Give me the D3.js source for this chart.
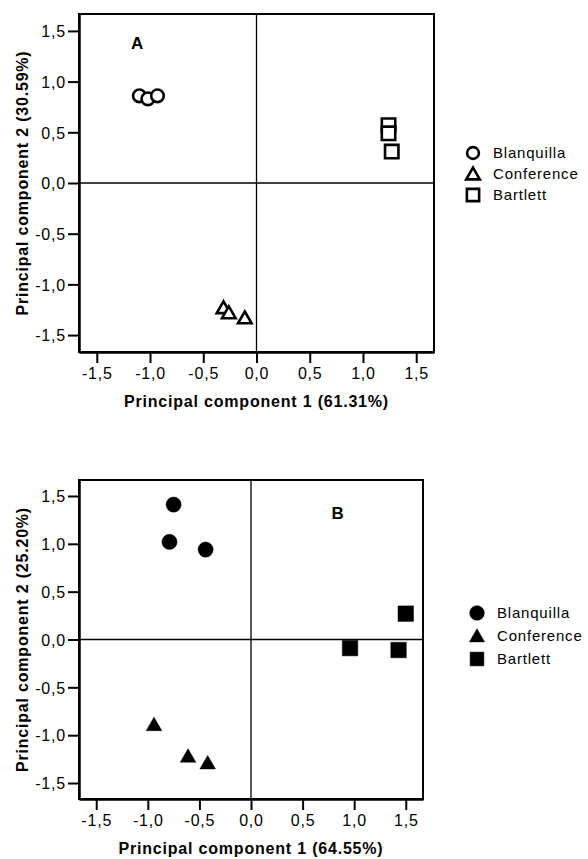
<!DOCTYPE html>
<html>
<head>
<meta charset="utf-8">
<script src="https://cdn.jsdelivr.net/npm/d3@7"></script>
<style>
  html, body { margin: 0; padding: 0; background: #fff; }
  svg { display: block; font-family: "Liberation Sans", Arial, sans-serif; }
</style>
</head>
<body>
<svg id="chart" width="588" height="859"></svg>
<script>
// ---- Data ----
const cultivars = ["Blanquilla", "Conference", "Bartlett"];
const tickValues = [-1.5, -1.0, -0.5, 0.0, 0.5, 1.0, 1.5];

// Panel A (open symbols)
const aBlanquillaX = [-1.10, -1.02, -0.93];
const aBlanquillaY = [0.86, 0.83, 0.86];
const aConferenceX = [-0.31, -0.26, -0.11];
const aConferenceY = [-1.23, -1.28, -1.33];
const aBartlettX = [1.24, 1.24, 1.27];
const aBartlettY = [0.57, 0.49, 0.31];

// Panel B (filled symbols)
const bBlanquillaX = [-0.75, -0.79, -0.44];
const bBlanquillaY = [1.41, 1.02, 0.94];
const bConferenceX = [-0.94, -0.61, -0.42];
const bConferenceY = [-0.89, -1.22, -1.29];
const bBartlettX = [1.50, 0.96, 1.43];
const bBartlettY = [0.27, -0.09, -0.11];

const panels = [
  {
    label: "A", filled: false,
    xTitle: "Principal component 1 (61.31%)",
    yTitle: "Principal component 2 (30.59%)",
    series: [
      {name: cultivars[0], xs: aBlanquillaX, ys: aBlanquillaY},
      {name: cultivars[1], xs: aConferenceX, ys: aConferenceY},
      {name: cultivars[2], xs: aBartlettX, ys: aBartlettY}
    ],
    box: {left: 79, right: 434, top: 14, bottom: 352},
    labelPos: [-1.12, 1.38],
    legend: {x: 473, y: 153, dy: 21}
  },
  {
    label: "B", filled: true,
    xTitle: "Principal component 1 (64.55%)",
    yTitle: "Principal component 2 (25.20%)",
    series: [
      {name: cultivars[0], xs: bBlanquillaX, ys: bBlanquillaY},
      {name: cultivars[1], xs: bConferenceX, ys: bConferenceY},
      {name: cultivars[2], xs: bBartlettX, ys: bBartlettY}
    ],
    box: {left: 79, right: 423, top: 480, bottom: 799},
    labelPos: [0.84, 1.32],
    legend: {x: 477, y: 613, dy: 23}
  }
];

const svg = d3.select("#chart");
const fmt = v => d3.format(".1f")(v).replace(".", ",").replace("−", "-");
const symTypes = [d3.symbolCircle, d3.symbolTriangle, d3.symbolSquare];

panels.forEach(p => {
  const b = p.box;
  const x = d3.scaleLinear().domain([-1.667, 1.667]).range([b.left, b.right]);
  const y = d3.scaleLinear().domain([-1.667, 1.667]).range([b.bottom, b.top]);
  const g = svg.append("g");

  // frame
  g.append("rect")
    .attr("x", b.left).attr("y", b.top)
    .attr("width", b.right - b.left).attr("height", b.bottom - b.top)
    .attr("fill", "none").attr("stroke", "#000").attr("stroke-width", 2);

  // zero reference lines
  g.append("line")
    .attr("x1", x(0)).attr("x2", x(0)).attr("y1", b.top).attr("y2", b.bottom)
    .attr("stroke", "#000").attr("stroke-width", 1.3);
  g.append("line")
    .attr("x1", b.left).attr("x2", b.right).attr("y1", y(0)).attr("y2", y(0))
    .attr("stroke", "#000").attr("stroke-width", 1.3);

  // axes
  const xAxis = d3.axisBottom(x).tickValues(tickValues).tickFormat(fmt).tickSize(11).tickSizeOuter(0).tickPadding(5);
  const yAxis = d3.axisLeft(y).tickValues(tickValues).tickFormat(fmt).tickSize(11).tickSizeOuter(0).tickPadding(2);

  const gx = g.append("g").attr("transform", `translate(0,${b.bottom})`).call(xAxis);
  const gy = g.append("g").attr("transform", `translate(${b.left},0)`).call(yAxis);
  [gx, gy].forEach(ax => {
    ax.select(".domain").attr("stroke", "#000").attr("stroke-width", 2.5);
    ax.selectAll(".tick line").attr("stroke", "#000").attr("stroke-width", 2);
    ax.selectAll(".tick text")
      .attr("fill", "#000")
      .style("font-family", '"Liberation Sans", Arial, sans-serif')
      .style("font-size", "16px")
      .style("letter-spacing", "0.8px");
  });
  gy.selectAll(".tick text").attr("dy", "0.36em");

  // axis titles
  g.append("text")
    .attr("x", (b.left + b.right) / 2)
    .attr("y", b.bottom + 55)
    .attr("text-anchor", "middle")
    .style("font-weight", "bold").style("font-size", "16px")
    .style("letter-spacing", "0.8px")
    .text(p.xTitle);
  g.append("text")
    .attr("transform", `translate(${28},${(b.top + b.bottom) / 2}) rotate(-90)`)
    .attr("text-anchor", "middle")
    .style("font-weight", "bold").style("font-size", "16px")
    .style("letter-spacing", "0.8px")
    .text(p.yTitle);

  // panel label
  g.append("text")
    .attr("x", x(p.labelPos[0])).attr("y", y(p.labelPos[1]))
    .attr("text-anchor", "middle").attr("dy", "0.36em")
    .style("font-weight", "bold").style("font-size", "17px")
    .text(p.label);

  const sizes = p.filled ? [180, 105, 240] : [125, 80, 180];

  // points
  p.series.forEach((s, i) => {
    const sym = d3.symbol().type(symTypes[i]).size(sizes[i]);
    const pts = s.xs.map((vx, k) => [vx, s.ys[k]]);
    g.selectAll(null).data(pts).enter().append("path")
      .attr("d", sym)
      .attr("transform", d => `translate(${x(d[0])},${y(d[1]) + (i === 1 ? 1.5 : 0)})`)
      .attr("fill", p.filled ? "#000" : "#fff")
      .attr("stroke", "#000")
      .attr("stroke-width", p.filled ? 0.5 : 2.6);
  });

  // legend
  const lg = g.append("g");
  const legSizes = p.filled ? [170, 100, 190] : [110, 80, 150];
  p.series.forEach((s, i) => {
    const yy = p.legend.y + i * p.legend.dy;
    lg.append("path")
      .attr("d", d3.symbol().type(symTypes[i]).size(legSizes[i]))
      .attr("transform", `translate(${p.legend.x},${yy + (i === 1 ? 1.5 : 0)})`)
      .attr("fill", p.filled ? "#000" : "#fff")
      .attr("stroke", "#000")
      .attr("stroke-width", p.filled ? 0.5 : 2.6);
    lg.append("text")
      .attr("x", p.legend.x + 20).attr("y", yy).attr("dy", "0.36em")
      .style("font-size", "15px").style("letter-spacing", "0.8px")
      .text(s.name);
  });
});
</script>
</body>
</html>
